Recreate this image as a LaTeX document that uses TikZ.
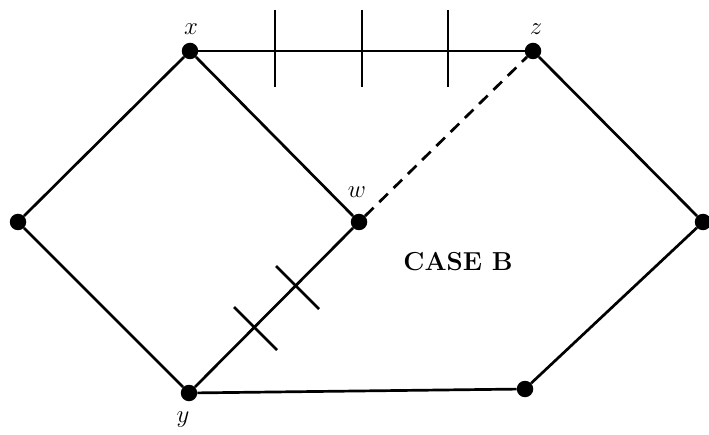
\documentclass[tikz,border=0pt]{standalone}
\usepackage{fontspec}
\usetikzlibrary{calc}
\begin{document}
\begin{tikzpicture}[x=1pt,y=-1pt,
  edge/.style={line width=2.7pt},
  vtx/.style={circle,fill=black,inner sep=0pt,minimum size=16.5pt},
  lbl/.style={font=\fontsize{28}{32}\selectfont,inner sep=0pt},
  tick/.style={line width=2.7pt}]
\useasboundingbox (0,0) rectangle (709,435);
\node[vtx] (x) at (190,51) {};
\node[vtx] (z) at (533,51) {};
\node[vtx] (l) at (18,222) {};
\node[vtx] (w) at (359,222) {};
\node[vtx] (r) at (703,222) {};
\node[vtx] (y) at (189,393) {};
\node[vtx] (br) at (525,389) {};
\node[lbl] (lx) at (191,29) {$x$};
\node[lbl] (lz) at (536,29) {$z$};
\node[lbl] (lw) at (357,192.5) {$w$};
\node[lbl] (ly) at (183,420) {$y$};
\node[font=\fontsize{26}{30}\selectfont\bfseries] (case) at (458,262) {CASE B};
\draw[edge] (x) -- (z);
\draw[edge] (x) -- (l) -- (y) -- (w) -- (x);
\draw[edge] (y) -- (br) -- (r) -- (z);
\draw[edge,dash pattern=on 12pt off 8pt] (w) -- (z);
\foreach \px in {275,362,448}{
  \coordinate (t1) at (\px,10);
  \coordinate (t2) at (\px,87);
  \draw[tick] (t1) -- (t2);
}
\foreach \cx/\cy in {255/328,297/287}{
  \coordinate (s1) at (\cx-21,\cy-21);
  \coordinate (s2) at (\cx+22,\cy+22);
  \draw[tick] (s1) -- (s2);
}
\end{tikzpicture}
\end{document}
